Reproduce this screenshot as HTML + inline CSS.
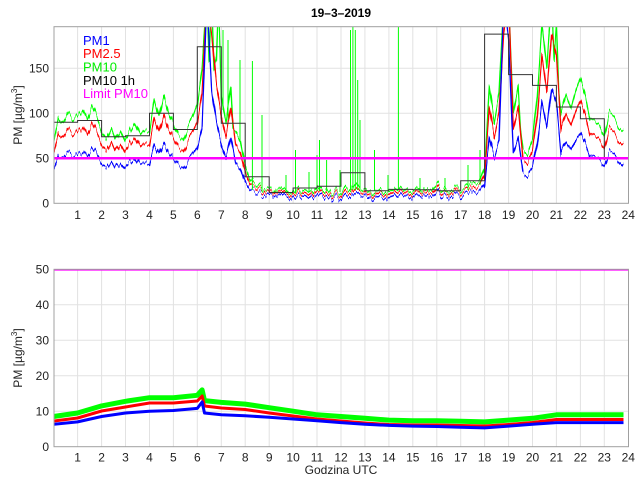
<!DOCTYPE html>
<html><head><meta charset="utf-8"><style>
body{margin:0;background:#fff;}
svg{display:block;font-family:"Liberation Sans",sans-serif;}
</style></head><body>
<svg width="640" height="480" viewBox="0 0 640 480">
<defs>
<clipPath id="c1"><rect x="54" y="26.7" width="574.5" height="176.6"/></clipPath>
<clipPath id="c2"><rect x="54" y="269" width="574.5" height="177.7"/></clipPath>
<filter id="jit" filterUnits="userSpaceOnUse" x="40" y="0" width="600" height="220">
<feTurbulence type="fractalNoise" baseFrequency="0.35 0.002" numOctaves="2" seed="3" result="n"/>
<feColorMatrix in="n" type="matrix" values="0 0 0 0 0.5  0 0 0 0 0.5  1.6 0 0 0 -0.3  0 0 0 0 1" result="m"/>
<feDisplacementMap in="SourceGraphic" in2="m" scale="9" xChannelSelector="R" yChannelSelector="B"/>
</filter>
</defs>
<rect width="640" height="480" fill="#fff"/>
<g stroke="#e2e2e2" stroke-width="1">
<path d="M77.6,26.7V203.3M101.6,26.7V203.3M125.5,26.7V203.3M149.5,26.7V203.3M173.4,26.7V203.3M197.3,26.7V203.3M221.3,26.7V203.3M245.2,26.7V203.3M269.2,26.7V203.3M293.1,26.7V203.3M317,26.7V203.3M341,26.7V203.3M364.9,26.7V203.3M388.9,26.7V203.3M412.8,26.7V203.3M436.8,26.7V203.3M460.7,26.7V203.3M484.6,26.7V203.3M508.6,26.7V203.3M532.5,26.7V203.3M556.4,26.7V203.3M580.4,26.7V203.3M604.3,26.7V203.3M54,158.3H628.5M54,113.3H628.5M54,68.3H628.5"/>
<path d="M77.6,269.3V446.7M101.6,269.3V446.7M125.5,269.3V446.7M149.5,269.3V446.7M173.4,269.3V446.7M197.3,269.3V446.7M221.3,269.3V446.7M245.2,269.3V446.7M269.2,269.3V446.7M293.1,269.3V446.7M317,269.3V446.7M341,269.3V446.7M364.9,269.3V446.7M388.9,269.3V446.7M412.8,269.3V446.7M436.8,269.3V446.7M460.7,269.3V446.7M484.6,269.3V446.7M508.6,269.3V446.7M532.5,269.3V446.7M556.4,269.3V446.7M580.4,269.3V446.7M604.3,269.3V446.7M54,411.2H628.5M54,375.7H628.5M54,340.2H628.5M54,304.7H628.5"/>
</g>
<g clip-path="url(#c1)">
<g fill="none" stroke-width="1.3" stroke-linejoin="round" filter="url(#jit)">
<polyline stroke="#00ff00" points="53.7,140.3 58.5,117.8 63.3,124.1 68.1,113.3 72.9,120.5 77.6,115.1 82.4,108.8 87.2,120.5 92,106.1 96.8,117.8 101.6,131.3 106.4,138.5 111.2,126.8 115.9,140.3 120.7,129.5 125.5,142.1 130.3,131.3 135.1,122.3 139.9,135.8 144.7,129.5 149.5,131.3 154.2,99.8 159,117.8 163.8,95.3 168.6,113.3 173.4,124.1 178.2,135.8 183,140.3 187.8,126.8 192.6,117.8 197.3,104.3 202.1,68.3 206.9,-3.7 209,60 211.7,-3.7 214,70 216.5,59.3 218.5,-3 221.3,95.3 226.1,122.3 230.9,86.3 233,130 235.6,131.3 240.4,140.3 245.2,167.3 250,180.8 254.8,183.5 259.6,187.1 264.4,188.9 269.2,190 274,193 278.7,189 283.5,192.5 288.3,190 293.1,193 297.9,189 302.7,192 307.5,190 312.3,193 317,187 321.8,192 326.6,188 331.4,193 336.2,190 341,192.5 345.8,186 350.6,190 355.3,184 360.1,190 364.9,192 369.7,189 374.5,193 379.3,190 384.1,192.5 388.9,189 393.6,192 398.4,188 403.2,192 408,189.5 412.8,192 417.6,188 422.4,191.5 427.2,189 431.9,190 436.7,184 441.5,190 446.3,188.5 451.1,191 455.9,188 460.7,190 465.5,187 470.2,185 475,182 479.8,180.8 484.6,167.3 489.4,86.3 494.2,122.3 499,95.3 503.8,-3.7 508.6,-3.7 511,60 513.3,113.3 518.1,86.3 520.5,130 522.9,149.3 527.7,153.8 532.5,140.3 537.3,95.3 542.1,23.3 546.9,68.3 551.6,-3.7 554,60 556.4,23.3 558.8,90 561.2,113.3 566,95.3 570.8,108.8 575.6,90.8 580.4,77.3 585.2,95.3 589.9,117.8 594.7,122.3 599.5,126.8 604.3,135.8 609.1,113.3 613.9,117.8 618.7,126.8 623.5,131.3"/>
<polyline stroke="#ff0000" points="53.7,151.6 58.5,133.2 63.3,138.4 68.1,129.5 72.9,135.4 77.6,131 82.4,125.8 87.2,135.4 92,123.6 96.8,133.2 101.6,144.3 106.4,150.2 111.2,140.6 115.9,151.6 120.7,142.8 125.5,153.1 130.3,144.3 135.1,136.9 139.9,148 144.7,142.8 149.5,144.3 154.2,118.4 159,133.2 163.8,114.7 168.6,129.5 173.4,138.4 178.2,148 183,151.6 187.8,140.6 192.6,133.2 197.3,122.1 202.1,92.6 206.9,-3 211.7,33.6 216.5,85.2 221.3,114.7 226.1,136.9 230.9,107.4 235.6,144.3 240.4,151.6 245.2,173.8 250,184.8 254.8,187.1 259.6,190 264.4,191.5 269.2,193 274,195 278.7,192 283.5,195 288.3,193 293.1,195.5 297.9,192 302.7,194.5 307.5,193 312.3,195.5 317,191 321.8,194.5 326.6,192 331.4,195.5 336.2,193 341,195 345.8,190 350.6,193 355.3,189 360.1,193 364.9,194.5 369.7,192 374.5,195.5 379.3,193 384.1,195 388.9,192 393.6,194.5 398.4,191 403.2,194.5 408,192.5 412.8,194.5 417.6,191 422.4,194 427.2,192 431.9,193 436.7,188 441.5,193 446.3,191.5 451.1,193.5 455.9,191 460.7,193 465.5,190 470.2,189 475,187 479.8,184.8 484.6,173.8 489.4,107.4 494.2,136.9 499,114.7 503.8,33.6 508.6,-3 513.3,129.5 518.1,107.4 522.9,159 527.7,162.7 532.5,151.6 537.3,114.7 542.1,55.7 546.9,92.6 551.6,33.6 556.4,55.7 561.2,129.5 566,114.7 570.8,125.8 575.6,111.1 580.4,100 585.2,114.7 589.9,133.2 594.7,136.9 599.5,140.6 604.3,148 609.1,129.5 613.9,133.2 618.7,140.6 623.5,144.3"/>
<polyline stroke="#0000ff" points="53.7,168 58.5,155.4 63.3,158.9 68.1,152.9 72.9,156.9 77.6,153.9 82.4,150.4 87.2,156.9 92,148.9 96.8,155.4 101.6,163 106.4,167 111.2,160.5 115.9,168 120.7,162 125.5,169 130.3,163 135.1,157.9 139.9,165.5 144.7,162 149.5,163 154.2,145.3 159,155.4 163.8,142.8 168.6,152.9 173.4,158.9 178.2,165.5 183,168 187.8,160.5 192.6,155.4 197.3,147.9 202.1,127.7 206.9,-3 211.7,90 216.5,122.7 221.3,142.8 226.1,157.9 230.9,137.8 235.6,163 240.4,168 245.2,183.1 250,190.7 254.8,192.2 259.6,194.2 264.4,195.2 269.2,196 274,198 278.7,195.5 283.5,198 288.3,196 293.1,198.5 297.9,196 302.7,197.5 307.5,196 312.3,198.5 317,195 321.8,197.5 326.6,195.5 331.4,198.5 336.2,196.5 341,198 345.8,194 350.6,196.5 355.3,193 360.1,196.5 364.9,197.5 369.7,195.5 374.5,198.5 379.3,196.5 384.1,198 388.9,195.5 393.6,197.5 398.4,195 403.2,197.5 408,196 412.8,197.5 417.6,195 422.4,197 427.2,195.5 431.9,196.5 436.7,192 441.5,196.5 446.3,195 451.1,197 455.9,195 460.7,196.5 465.5,194 470.2,193 475,191.5 479.8,190.7 484.6,183.1 489.4,137.8 494.2,157.9 499,142.8 503.8,-3 508.6,40 513.3,152.9 518.1,137.8 522.9,173.1 527.7,175.6 532.5,168 537.3,142.8 542.1,102.5 546.9,127.7 551.6,87.4 556.4,102.5 561.2,152.9 566,142.8 570.8,150.4 575.6,140.3 580.4,132.7 585.2,142.8 589.9,155.4 594.7,157.9 599.5,160.5 604.3,165.5 609.1,152.9 613.9,155.4 618.7,160.5 623.5,165.5"/>
</g>
<path fill="none" stroke="#00ff00" stroke-width="1" d="M252.4,190V61M262,191V115M295.5,192V150M317,191V155M319.5,191V140M326.6,191V160M350.5,190V30M352.9,190V-3M355.3,190V30M357.7,190V80M360,190V120M374.5,191V150M398.4,190V-3M468,190V165M480,185V150M286,192V175M309,192V172M340,192V170M388,192V175M420,192V178M445,192V178M240,140V60M228,120V40M223,110V30"/>
<path fill="none" stroke="#333" stroke-width="1" d="M53.7,122.3H77.6V120.5H101.6V136.7H125.5V135.8H149.5V113.3H173.4V129.5H197.3V46.7H221.3V123.2H245.2V176.8H269.2V192.5H293.1V188H317V186.2H341V172.7H364.9V190.7H388.9V189.4H412.8V189.8H436.8V190.7H460.7V180.8H484.6V34.1H508.6V74.6H532.5V85.4H556.4V107H580.4V118.7H604.3V160"/>
<line x1="54" x2="628.5" y1="158.3" y2="158.3" stroke="#ff00ff" stroke-width="2.5"/>
</g>
<g clip-path="url(#c2)" fill="none" stroke-linejoin="round">
<polyline stroke="#00ff00" stroke-width="5" points="53.7,416.5 77.6,413 101.6,405.9 125.5,401.3 149.5,397.7 173.4,397.7 197.3,395.3 202.1,389.9 204.5,400.6 221.3,402.4 245.2,404.1 269.2,407.7 293.1,411.2 317,414.8 341,416.5 364.9,418.3 388.9,420.1 412.8,420.8 436.8,420.8 460.7,421.2 484.6,421.9 508.6,420.1 532.5,418.3 556.4,414.8 580.4,414.8 604.3,414.8 623.5,414.8"/>
<polyline stroke="#ff0000" stroke-width="3" points="53.7,421 77.6,418 101.6,411 125.5,407 149.5,403 173.4,403 197.3,401 202.1,396 204.5,406 221.3,408 245.2,409.5 269.2,413 293.1,416 317,419 341,421 364.9,423 388.9,424.5 412.8,425 436.8,425 460.7,425.5 484.6,426 508.6,424.5 532.5,422.5 556.4,419.5 580.4,419.5 604.3,419.5 623.5,419.5"/>
<polyline stroke="#0000ff" stroke-width="3" points="53.7,424.3 77.6,421.9 101.6,416.5 125.5,413 149.5,411.2 173.4,410.5 197.3,408.4 202.1,402 204.5,413 221.3,414.8 245.2,415.8 269.2,417.2 293.1,419 317,420.8 341,422.6 364.9,424.3 388.9,425.4 412.8,426.1 436.8,426.5 460.7,427.2 484.6,427.9 508.6,426.1 532.5,424.3 556.4,422.6 580.4,422.6 604.3,422.6 623.5,422.6"/>
<line x1="54" x2="628.5" y1="269.6" y2="269.6" stroke="#ff00ff" stroke-width="2"/>
</g>
<g fill="none" stroke="#a0a0a0" stroke-width="1">
<rect x="54" y="26.7" width="574.5" height="176.6"/>
<rect x="54" y="269.3" width="574.5" height="177.4"/>
</g>
<g font-size="12" fill="#222" text-anchor="end">
<text x="49" y="207.5">0</text><text x="49" y="162.5">50</text><text x="49" y="117.5">100</text><text x="49" y="72.5">150</text>
<text x="49" y="451">0</text><text x="49" y="415.5">10</text><text x="49" y="380">20</text><text x="49" y="344.5">30</text><text x="49" y="309">40</text><text x="49" y="273.5">50</text>
</g>
<g font-size="12" fill="#222" text-anchor="middle">
<text x="77.6" y="219">1</text><text x="101.6" y="219">2</text><text x="125.5" y="219">3</text><text x="149.5" y="219">4</text><text x="173.4" y="219">5</text><text x="197.3" y="219">6</text><text x="221.3" y="219">7</text><text x="245.2" y="219">8</text><text x="269.2" y="219">9</text><text x="293.1" y="219">10</text><text x="317" y="219">11</text><text x="341" y="219">12</text><text x="364.9" y="219">13</text><text x="388.9" y="219">14</text><text x="412.8" y="219">15</text><text x="436.8" y="219">16</text><text x="460.7" y="219">17</text><text x="484.6" y="219">18</text><text x="508.6" y="219">19</text><text x="532.5" y="219">20</text><text x="556.4" y="219">21</text><text x="580.4" y="219">22</text><text x="604.3" y="219">23</text><text x="628.3" y="219">24</text>
<text x="77.6" y="461.5">1</text><text x="101.6" y="461.5">2</text><text x="125.5" y="461.5">3</text><text x="149.5" y="461.5">4</text><text x="173.4" y="461.5">5</text><text x="197.3" y="461.5">6</text><text x="221.3" y="461.5">7</text><text x="245.2" y="461.5">8</text><text x="269.2" y="461.5">9</text><text x="293.1" y="461.5">10</text><text x="317" y="461.5">11</text><text x="341" y="461.5">12</text><text x="364.9" y="461.5">13</text><text x="388.9" y="461.5">14</text><text x="412.8" y="461.5">15</text><text x="436.8" y="461.5">16</text><text x="460.7" y="461.5">17</text><text x="484.6" y="461.5">18</text><text x="508.6" y="461.5">19</text><text x="532.5" y="461.5">20</text><text x="556.4" y="461.5">21</text><text x="580.4" y="461.5">22</text><text x="604.3" y="461.5">23</text><text x="628.3" y="461.5">24</text>
<text x="341" y="17" font-size="12" font-weight="bold" fill="#000">19–3–2019</text>
<text x="341" y="474" font-size="12">Godzina UTC</text>
</g>
<text transform="translate(22,115) rotate(-90)" font-size="12" fill="#222" text-anchor="middle">PM [µg/m<tspan dy="-5" font-size="8">3</tspan><tspan dy="5">]</tspan></text>
<text transform="translate(22,358) rotate(-90)" font-size="12" fill="#222" text-anchor="middle">PM [µg/m<tspan dy="-5" font-size="8">3</tspan><tspan dy="5">]</tspan></text>
<g font-size="13">
<text x="83" y="45" fill="#0000ff">PM1</text>
<text x="83" y="58" fill="#ff0000">PM2.5</text>
<text x="83" y="71.5" fill="#00ee00">PM10</text>
<text x="83" y="85" fill="#000">PM10 1h</text>
<text x="83" y="98" fill="#ff00ff">Limit PM10</text>
</g>
</svg>
</body></html>
